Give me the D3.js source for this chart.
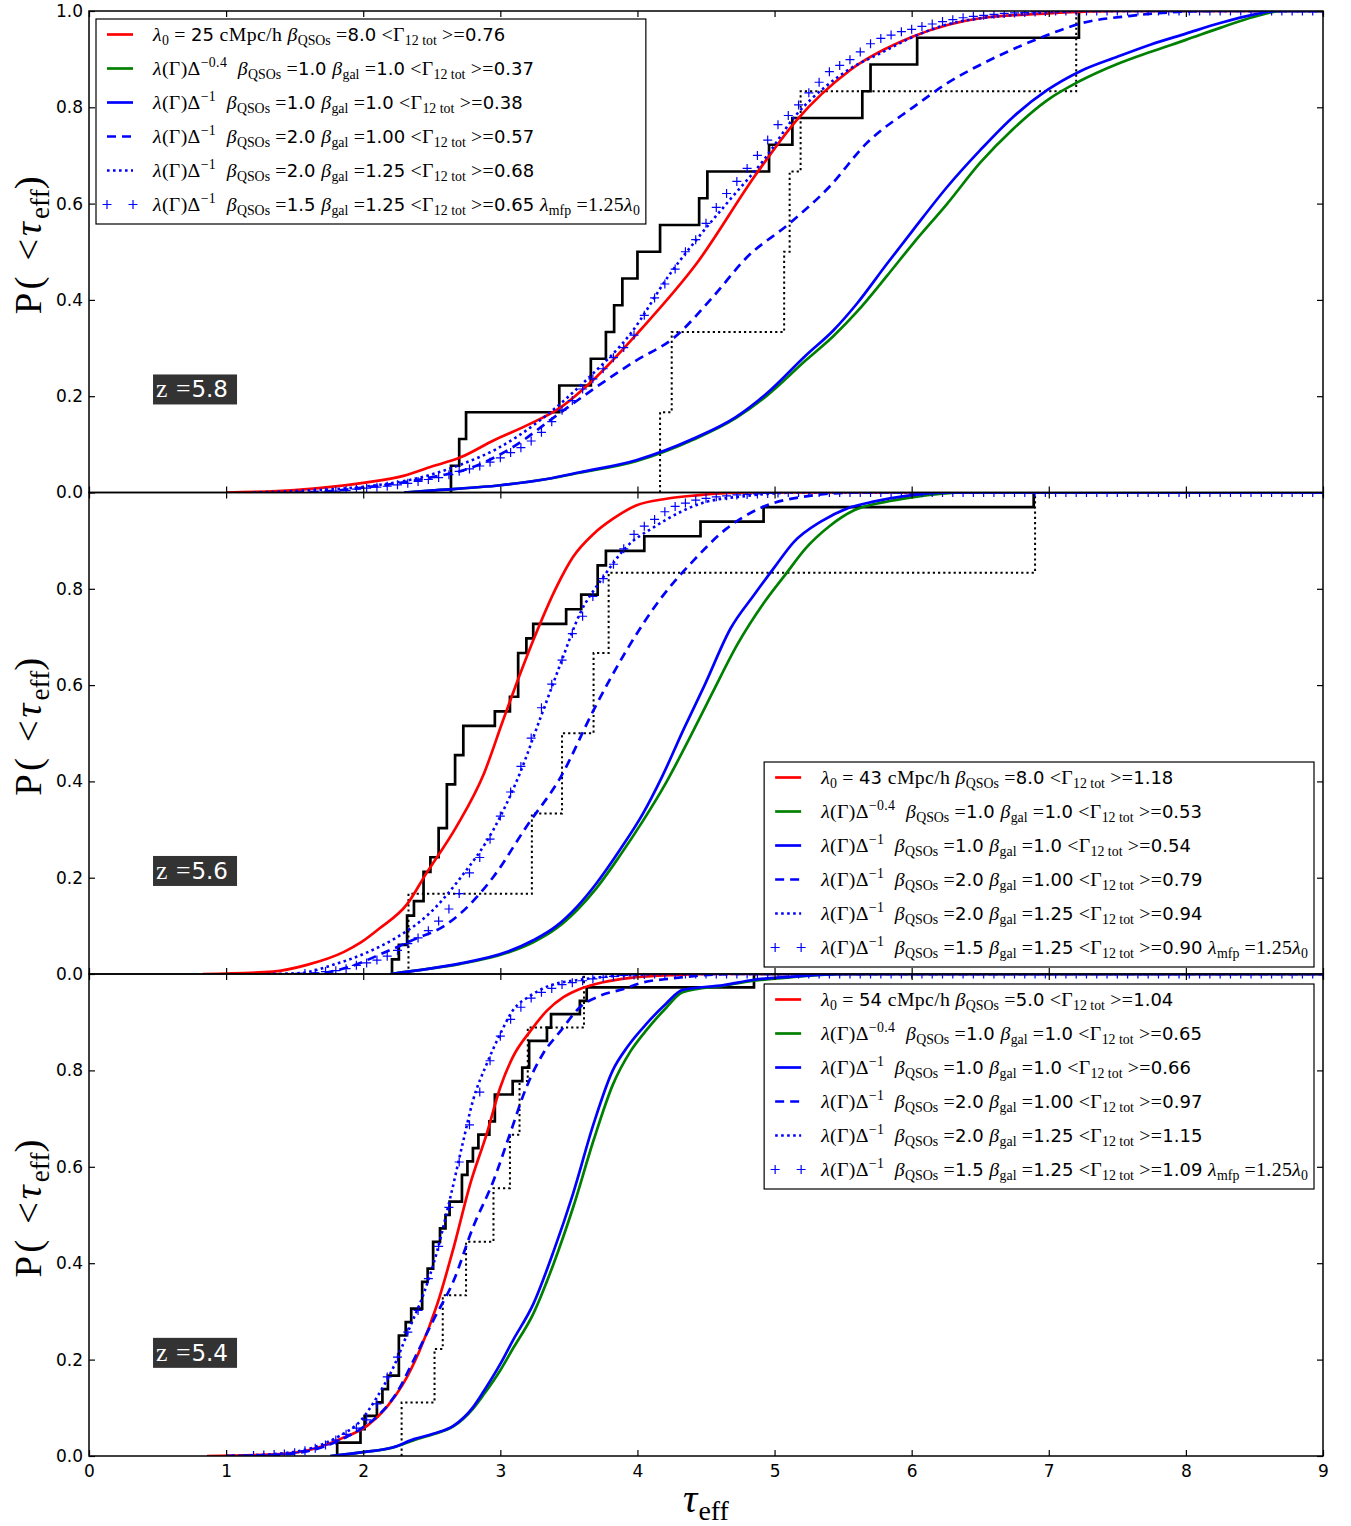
<!DOCTYPE html>
<html>
<head>
<meta charset="utf-8">
<script src="https://cdnjs.cloudflare.com/ajax/libs/d3/7.8.5/d3.min.js"></script>
<style>
  body { margin: 0; background: #fff; }
  text { white-space: pre; }
</style>
</head>
<body>
<svg id="chart" width="1351" height="1526"></svg>
<script>
// ---- labels / legend values -------------------------------------------
const Z_LABELS = ["5.8", "5.6", "5.4"];
const LAMBDA0 = ["25", "43", "54"];
const BETA_QSO_RED = ["8.0", "8.0", "5.0"];
const GAMMA_TOT = [
  ["0.76", "0.37", "0.38", "0.57", "0.68", "0.65"],
  ["1.18", "0.53", "0.54", "0.79", "0.94", "0.90"],
  ["1.04", "0.65", "0.66", "0.97", "1.15", "1.09"]];
const MODEL_EXP = ["\u22120.4", "\u22121", "\u22121", "\u22121", "\u22121"];
const MODEL_BQ = ["1.0", "1.0", "2.0", "2.0", "1.5"];
const MODEL_BG = ["1.0", "1.0", "1.00", "1.25", "1.25"];

// ---- observed tau_eff samples (solid black step) ----------------------
const OBS_58 = [2.64, 2.70, 2.75, 3.43, 3.66, 3.77, 3.83, 3.89, 4.00, 4.165, 4.45, 4.51, 4.96, 5.13, 5.64, 5.70, 6.04, 7.22];
const OBS_56 = [2.21, 2.26, 2.32, 2.32, 2.37, 2.44, 2.44, 2.49, 2.55, 2.55, 2.61, 2.61, 2.61, 2.67, 2.67, 2.73, 2.73,
  2.96, 3.07, 3.13, 3.13, 3.13, 3.19, 3.24, 3.48, 3.59, 3.71, 3.71, 3.77, 4.05, 4.46, 4.92, 6.89];
const OBS_54 = [1.81, 1.98, 2.01, 2.10, 2.14, 2.18, 2.26, 2.26, 2.26, 2.31, 2.35, 2.43, 2.43, 2.47, 2.51, 2.51, 2.56,
  2.60, 2.63, 2.72, 2.72, 2.76, 2.80, 2.84, 2.92, 2.96, 2.96, 3.09, 3.16, 3.21, 3.21, 3.34, 3.37, 3.58, 3.63, 4.85];
// second sample (dotted black step)
const LOW_58 = [4.165, 4.25, 5.07, 5.11, 5.19, 7.20];
const LOW_56 = [2.33, 3.23, 3.45, 3.68, 3.79, 6.90];
const LOW_54 = [2.28, 2.52, 2.58, 2.75, 2.95, 3.07, 3.14, 3.20, 3.61];

// ---- model CDFs [tau, P] ----------------------------------------------
const RED_58 = [[1.0,0],[1.5,0.005],[2.0,0.02],[2.3,0.035],[2.49,0.053],[2.71,0.073],[2.95,0.108],[3.22,0.143],[3.44,0.177],
  [3.70,0.24],[4.02,0.337],[4.43,0.475],[4.87,0.663],[5.16,0.773],[5.55,0.877],[6.01,0.947],[6.5,0.985],[7.0,0.995],[7.5,1],[9,1]];
const GREEN_58 = [[2.3,0],[2.49,0.004],[3.0,0.015],[3.34,0.028],[3.58,0.041],[3.99,0.065],[4.41,0.11],[4.72,0.155],[4.94,0.2],
  [5.23,0.275],[5.43,0.325],[5.60,0.375],[5.82,0.45],[6.01,0.517],[6.26,0.60],[6.5,0.685],[6.74,0.755],[6.99,0.815],[7.23,0.855],
  [7.5,0.89],[7.74,0.915],[8.0,0.94],[8.25,0.965],[8.5,0.988],[8.7,1],[9,1]];
const BLUE_58 = [[2.3,0],[2.49,0.004],[3.0,0.015],[3.34,0.028],[3.58,0.042],[3.99,0.067],[4.41,0.112],[4.72,0.157],[4.94,0.205],
  [5.23,0.285],[5.43,0.337],[5.60,0.392],[5.82,0.475],[6.01,0.545],[6.26,0.635],[6.5,0.711],[6.74,0.78],[6.99,0.836],[7.23,0.875],
  [7.5,0.905],[7.74,0.93],[8.0,0.953],[8.25,0.975],[8.5,0.993],[8.65,1],[9,1]];
const DASH_58 = [[1.5,0],[1.76,0.003],[2.0,0.01],[2.27,0.02],[2.56,0.035],[2.73,0.046],[3.09,0.094],[3.41,0.16],[3.70,0.219],
  [3.99,0.274],[4.26,0.32],[4.55,0.406],[4.80,0.489],[5.11,0.559],[5.40,0.635],[5.67,0.725],[6.01,0.80],[6.26,0.85],[6.62,0.905],
  [6.99,0.95],[7.23,0.974],[7.6,0.99],[8.2,1],[9,1]];
const DOT_58 = [[1.2,0],[1.5,0.003],[2.0,0.012],[2.37,0.028],[2.73,0.06],[2.97,0.09],[3.29,0.15],[3.65,0.24],[3.95,0.33],
  [4.24,0.455],[4.43,0.525],[4.68,0.61],[4.92,0.69],[5.16,0.785],[5.38,0.845],[5.55,0.88],[5.77,0.912],[6.0,0.945],[6.26,0.972],
  [6.8,0.993],[7.3,1],[9,1]];

const RED_56 = [[0.83,0],[1.34,0.005],[1.59,0.019],[1.86,0.046],[1.98,0.065],[2.12,0.095],[2.32,0.145],[2.46,0.209],[2.68,0.306],
  [2.88,0.416],[3.02,0.527],[3.14,0.62],[3.27,0.714],[3.41,0.804],[3.53,0.866],[3.68,0.914],[3.82,0.945],[3.99,0.973],[4.21,0.987],
  [4.43,0.994],[4.8,1],[9,1]];
const GREEN_56 = [[2.2,0],[2.46,0.01],[2.71,0.021],[3.05,0.044],[3.24,0.066],[3.41,0.095],[3.56,0.133],[3.70,0.178],[3.87,0.245],
  [4.04,0.318],[4.21,0.398],[4.38,0.49],[4.54,0.58],[4.73,0.685],[4.92,0.77],[5.08,0.83],[5.23,0.885],[5.4,0.93],[5.58,0.963],
  [5.8,0.98],[6.0,0.99],[6.4,1],[9,1]];
const BLUE_56 = [[2.2,0],[2.46,0.01],[2.71,0.022],[3.05,0.046],[3.24,0.07],[3.41,0.10],[3.56,0.14],[3.70,0.188],[3.87,0.257],
  [4.04,0.333],[4.18,0.41],[4.34,0.51],[4.49,0.6],[4.68,0.718],[4.85,0.787],[5.0,0.845],[5.14,0.897],[5.34,0.94],[5.53,0.967],
  [5.72,0.981],[5.96,0.993],[6.3,1],[9,1]];
const DASH_56 = [[1.5,0],[1.66,0.001],[1.90,0.015],[2.15,0.044],[2.39,0.074],[2.58,0.098],[2.71,0.126],[2.95,0.202],[3.19,0.306],
  [3.44,0.409],[3.68,0.548],[3.92,0.672],[4.16,0.776],[4.41,0.859],[4.65,0.925],[4.89,0.967],[5.23,0.992],[5.6,1],[9,1]];
const DOT_56 = [[1.3,0],[1.54,0.002],[1.78,0.019],[2.03,0.045],[2.25,0.077],[2.48,0.125],[2.71,0.2],[2.95,0.3],[3.14,0.415],
  [3.29,0.53],[3.44,0.645],[3.58,0.748],[3.75,0.824],[3.92,0.887],[4.12,0.928],[4.31,0.959],[4.46,0.977],[4.8,0.993],[5.2,1],[9,1]];

const RED_54 = [[0.86,0],[1.39,0.004],[1.64,0.015],[1.83,0.035],[2.03,0.063],[2.17,0.101],[2.29,0.149],[2.41,0.218],[2.54,0.315],
  [2.66,0.433],[2.78,0.564],[2.90,0.668],[3.0,0.765],[3.09,0.827],[3.22,0.882],[3.34,0.924],[3.46,0.952],[3.58,0.969],[3.75,0.983],
  [3.95,0.992],[4.3,0.998],[4.6,1],[9,1]];
const GREEN_54 = [[1.76,0],[2.0,0.008],[2.22,0.018],[2.37,0.033],[2.51,0.045],[2.66,0.062],[2.80,0.098],[2.88,0.128],[3.0,0.178],
  [3.09,0.222],[3.24,0.295],[3.39,0.40],[3.53,0.515],[3.68,0.655],[3.82,0.77],[3.95,0.84],[4.07,0.885],[4.21,0.93],[4.33,0.962],
  [4.63,0.976],[4.85,0.986],[5.11,0.993],[5.5,1],[9,1]];
const BLUE_54 = [[1.76,0],[2.0,0.008],[2.22,0.018],[2.37,0.035],[2.51,0.046],[2.66,0.063],[2.80,0.101],[2.88,0.135],[3.0,0.191],
  [3.09,0.239],[3.24,0.315],[3.39,0.426],[3.53,0.544],[3.68,0.689],[3.82,0.80],[3.93,0.85],[4.07,0.898],[4.21,0.939],[4.33,0.967],
  [4.63,0.977],[4.85,0.988],[5.11,0.994],[5.5,1],[9,1]];
const DASH_54 = [[1.0,0],[1.4,0.003],[1.64,0.013],[1.83,0.033],[1.98,0.056],[2.12,0.087],[2.24,0.129],[2.37,0.20],[2.51,0.281],
  [2.66,0.364],[2.80,0.474],[2.95,0.571],[3.07,0.668],[3.19,0.765],[3.31,0.834],[3.44,0.882],[3.58,0.931],[3.73,0.955],[3.90,0.969],
  [4.02,0.981],[4.26,0.991],[4.7,1],[9,1]];
const DOT_54 = [[1.0,0],[1.39,0.005],[1.64,0.018],[1.83,0.042],[1.98,0.073],[2.10,0.122],[2.22,0.184],[2.34,0.267],[2.44,0.336],
  [2.54,0.426],[2.63,0.53],[2.73,0.654],[2.80,0.737],[2.90,0.813],[3.0,0.876],[3.09,0.924],[3.22,0.955],[3.36,0.976],[3.58,0.988],
  [3.9,0.997],[4.3,1],[9,1]];

// ---- "+" model: values on the tau bin grid (step PLUS_DTAU) ------------
const PLUS_DTAU = 0.075;
const PLUS_T0 = [1.65, 1.575, 1.2];
const PLUS_58 = [0.0005,0.001,0.003,0.004,0.007,0.009,0.011,0.013,0.016,0.019,0.023,0.027,0.031,0.037,0.044,0.049,0.055,0.063,
  0.072,0.083,0.093,0.107,0.125,0.147,0.171,0.191,0.215,0.236,0.257,0.28,0.301,0.327,0.368,0.404,0.433,0.464,0.50,0.525,0.559,
  0.592,0.621,0.646,0.673,0.70,0.732,0.764,0.783,0.805,0.83,0.852,0.874,0.887,0.899,0.915,0.932,0.943,0.95,0.957,0.962,0.968,
  0.973,0.978,0.982,0.986,0.989,0.991,0.993,0.995,0.996,0.997,0.998,0.999,
  1,1,1,1,1,1,1,1,1,1,1,1,1,1,1,1,1,1,1,1,1,1,1,1,1,1,1];
const PLUS_56 = [0.001,0.002,0.005,0.007,0.011,0.018,0.023,0.029,0.037,0.049,0.063,0.075,0.09,0.11,0.135,0.167,0.21,0.242,0.28,
  0.328,0.378,0.431,0.49,0.553,0.602,0.652,0.707,0.743,0.784,0.821,0.851,0.883,0.913,0.93,0.944,0.96,0.971,0.978,0.984,0.988,
  0.991,0.993,0.995,0.996,0.997,0.998,0.999,
  1,1,1,1,1,1,1,1,1,1,1,1,1,1,1,1,1,1,1,1,1,1,1,1,1,1,1,1,1,1,1,1,1,1,1,1,1,1,1,1,1,1,1,1,1,1,1,1,1,1,1,1,1];
const PLUS_54 = [0.001,0.002,0.003,0.004,0.007,0.011,0.016,0.023,0.033,0.045,0.058,0.075,0.108,0.164,0.205,0.257,0.302,0.368,
  0.435,0.516,0.61,0.687,0.755,0.82,0.871,0.906,0.931,0.95,0.962,0.97,0.978,0.982,0.986,0.99,0.993,0.995,0.997,0.998,0.999,
  1,1,1,1,1,1,1,1,1,1,1,1,1,1,1,1,1,1,1,1,1,1,1,1,1,1,1,1,1,1,1,1,1,1,1,1,1,1,1,1,1,1,1,1,1,1,1,1,1,1,1,1,1,1,1,1,1,1,1,1,1,1,1,1,1,1,1];

// ---- layout ------------------------------------------------------------
const SANS = "DejaVu Sans", SERIF = "Liberation Serif";
const X0 = 89, X1 = 1323;
const TOPS = [11, 492.5, 974], BOTS = [492.5, 974, 1456];
const LEG = [{x: 96, y: 19, right: false}, {x: 1314, y: 762, right: true}, {x: 1314, y: 984, right: true}];

const panels = [
  {obs: OBS_58, low: LOW_58, red: RED_58, green: GREEN_58, blue: BLUE_58, dash: DASH_58, dot: DOT_58, plus: PLUS_58},
  {obs: OBS_56, low: LOW_56, red: RED_56, green: GREEN_56, blue: BLUE_56, dash: DASH_56, dot: DOT_56, plus: PLUS_56},
  {obs: OBS_54, low: LOW_54, red: RED_54, green: GREEN_54, blue: BLUE_54, dash: DASH_54, dot: DOT_54, plus: PLUS_54}];

const STYLES = {
  red:   {stroke: "#ff0000", width: 2.7, dash: null},
  green: {stroke: "#008000", width: 2.7, dash: null},
  blue:  {stroke: "#0000ff", width: 2.7, dash: null},
  dash:  {stroke: "#0000ff", width: 2.7, dash: "9,6"},
  dot:   {stroke: "#0000ff", width: 2.6, dash: "2.6,3.4"}
};
const PLUS_PATH = "M-4.5,0H4.5M0,-4.5V4.5";

const svg = d3.select("#chart");
const x = d3.scaleLinear().domain([0, 9]).range([X0, X1]);

// mixed serif/sans text with sub/superscripts; serif parts are drawn a bit
// larger and looser to approach the width of Computer Modern
function mathText(sel, segs, fs, opt = {}) {
  const serifScale = opt.serifScale || 1, ls = opt.spacing || 0;
  let shift = 0;
  segs.forEach(([kind, str]) => {
    const serif = kind !== "sans";
    const base = serif ? fs * serifScale : fs;
    let target = 0, size = base;
    if (kind === "sub") { target = 0.22 * fs; size = 0.7 * base; }
    if (kind === "sup") { target = -0.42 * fs; size = 0.7 * base; }
    sel.append("tspan")
      .attr("dy", target - shift)
      .attr("font-size", size)
      .attr("font-family", serif ? SERIF : SANS)
      .attr("font-style", kind === "it" ? "italic" : "normal")
      .attr("letter-spacing", serif && kind !== "sub" ? ls : 0)
      .text(str);
    shift = target;
  });
}

function legendRows(i) {
  const g = GAMMA_TOT[i];
  const rows = [[
    ["it", "λ"], ["sub", "0"], ["rm", " = "], ["sans", LAMBDA0[i] + " "], ["rm", "cMpc/h "], ["it", "β"], ["sub", "QSOs"],
    ["rm", " ="], ["sans", BETA_QSO_RED[i]], ["rm", " <Γ"], ["sub", "12 tot"], ["rm", " >="], ["sans", g[0]]]];
  MODEL_EXP.forEach((e, m) => {
    const r = [["it", "λ"], ["rm", "(Γ)Δ"], ["sup", e], ["rm", "  "], ["it", "β"], ["sub", "QSOs"], ["rm", " ="],
      ["sans", MODEL_BQ[m] + " "], ["it", "β"], ["sub", "gal"], ["rm", " ="], ["sans", MODEL_BG[m]], ["rm", " <Γ"],
      ["sub", "12 tot"], ["rm", " >="], ["sans", g[m + 1]]];
    if (m === 4) r.push(["sans", " "], ["it", "λ"], ["sub", "mfp"], ["rm", " =1.25"], ["it", "λ"], ["sub", "0"]);
    rows.push(r);
  });
  return rows;
}

panels.forEach((p, i) => {
  const top = TOPS[i], bot = BOTS[i];
  const y = d3.scaleLinear().domain([0, 1]).range([bot, top]);
  const g = svg.append("g");

  g.append("clipPath").attr("id", "clip" + i)
    .append("rect").attr("x", X0).attr("y", top).attr("width", X1 - X0).attr("height", bot - top);
  const plot = g.append("g").attr("clip-path", `url(#clip${i})`);

  // empirical step CDFs
  const stepLine = d3.line().x(d => x(d[0])).y(d => y(d[1])).curve(d3.curveStepAfter);
  const ecdf = arr => [[arr[0], 0]].concat(arr.map((t, k) => [t, (k + 1) / arr.length]), [[9, 1]]);
  plot.append("path").attr("d", stepLine(ecdf(p.obs)))
    .attr("fill", "none").attr("stroke", "#000").attr("stroke-width", 2.7);
  plot.append("path").attr("d", stepLine(ecdf(p.low)))
    .attr("fill", "none").attr("stroke", "#000").attr("stroke-width", 2).attr("stroke-dasharray", "2.2,3");

  // model curves
  const line = d3.line().x(d => x(d[0])).y(d => y(d[1])).curve(d3.curveMonotoneX);
  ["red", "green", "blue", "dash", "dot"].forEach(k => {
    const s = STYLES[k];
    plot.append("path").attr("d", line(p[k]))
      .attr("fill", "none").attr("stroke", s.stroke).attr("stroke-width", s.width)
      .attr("stroke-dasharray", s.dash);
  });
  plot.selectAll(".plus").data(p.plus).join("path")
    .attr("transform", (d, k) => `translate(${x(PLUS_T0[i] + k * PLUS_DTAU)},${y(d)})`)
    .attr("d", PLUS_PATH).attr("stroke", "#0000ff").attr("stroke-width", 1.2);

  // axes (inward ticks on all sides)
  const yTicks = i === 0 ? [0, 0.2, 0.4, 0.6, 0.8, 1.0] : [0, 0.2, 0.4, 0.6, 0.8];
  const styleAxis = a => {
    a.select(".domain").remove();
    a.selectAll("line").attr("stroke", "#000").attr("stroke-width", 1.2);
    a.selectAll("text").attr("font-family", SANS).attr("font-size", 17).attr("fill", "#000");
  };
  g.append("g").attr("transform", `translate(${X0},0)`)
    .call(d3.axisLeft(y).tickValues(yTicks).tickSize(-6).tickPadding(6).tickFormat(d3.format(".1f"))).call(styleAxis);
  g.append("g").attr("transform", `translate(${X1},0)`)
    .call(d3.axisRight(y).tickValues(yTicks).tickSize(-6).tickFormat("")).call(styleAxis);
  g.append("g").attr("transform", `translate(0,${top})`)
    .call(d3.axisTop(x).ticks(9).tickSize(-6).tickFormat("")).call(styleAxis);
  g.append("g").attr("transform", `translate(0,${bot})`)
    .call(d3.axisBottom(x).ticks(9).tickSize(-6).tickPadding(9).tickFormat(i === 2 ? d3.format("d") : ""))
    .call(styleAxis);

  g.append("rect").attr("x", X0).attr("y", top).attr("width", X1 - X0).attr("height", bot - top)
    .attr("fill", "none").attr("stroke", "#000").attr("stroke-width", 1.5);

  // y label
  const yl = g.append("text").attr("transform", `translate(41,${(top + bot) / 2 - 8}) rotate(-90)`)
    .attr("text-anchor", "middle");
  mathText(yl, [["rm", "P( <"], ["it", "τ"], ["sub", "eff"], ["rm", ")"]], 36, {serifScale: 1.08, spacing: 3});

  // redshift tag
  const zy = y(0.214);
  g.append("rect").attr("x", x(0.467)).attr("y", zy - 15).attr("width", 84).attr("height", 30).attr("fill", "#333333");
  const zt = g.append("text").attr("x", x(0.467) + 3).attr("y", zy + 8).attr("fill", "#fff");
  mathText(zt, [["rm", "z"], ["rm", " ="], ["sans", Z_LABELS[i]]], 23, {serifScale: 1.12, spacing: 1});

  // legend
  const L = LEG[i];
  const leg = g.append("g");
  const box = leg.append("rect").attr("fill", "#fff").attr("stroke", "#000").attr("stroke-width", 1.2);
  const rowsG = leg.append("g");
  let maxW = 0;
  legendRows(i).forEach((segs, r) => {
    const t = rowsG.append("text").attr("x", 57).attr("y", 15.5 + 34 * r + 6.5).attr("fill", "#000");
    mathText(t, segs, 18, {serifScale: 1.1, spacing: 0.35});
    maxW = Math.max(maxW, t.node().getComputedTextLength());
  });
  const sampleKeys = ["red", "green", "blue", "dash", "dot"];
  sampleKeys.forEach((k, r) => {
    const s = STYLES[k];
    rowsG.append("line").attr("x1", 11).attr("x2", 37).attr("y1", 15.5 + 34 * r).attr("y2", 15.5 + 34 * r)
      .attr("stroke", s.stroke).attr("stroke-width", s.width).attr("stroke-dasharray", s.dash);
  });
  [11, 37].forEach(px => rowsG.append("path").attr("d", PLUS_PATH)
    .attr("transform", `translate(${px},${15.5 + 34 * 5})`).attr("stroke", "#0000ff").attr("stroke-width", 1.2));
  const bw = 57 + maxW + 6, bh = 205;
  const bx = L.right ? L.x - bw : L.x;
  box.attr("width", bw).attr("height", bh);
  leg.attr("transform", `translate(${bx},${L.y})`);
});

// x label
const xl = svg.append("text").attr("x", 706).attr("y", 1512).attr("text-anchor", "middle");
mathText(xl, [["it", "τ"], ["sub", "eff"]], 38, {serifScale: 1.05, spacing: 1});
</script>
</body>
</html>
